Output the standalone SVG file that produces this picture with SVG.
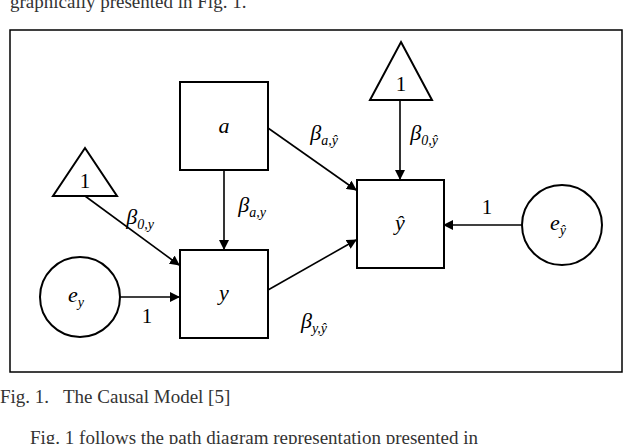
<svg xmlns="http://www.w3.org/2000/svg" width="632" height="444" viewBox="0 0 632 444">
<style>
.n{fill:#fff;stroke:#000;stroke-width:2}
.t{font-family:"Liberation Serif",serif;font-size:22px;font-style:italic;text-anchor:middle}
.u{font-family:"Liberation Serif",serif;font-size:21px;text-anchor:middle}
.s{font-size:14px}
.c{stroke:#000;stroke-width:1.6;fill:none;marker-end:url(#ah)}
.p{font-family:"Liberation Serif",serif;font-size:19px;fill:#333}
</style>
<defs><marker id="ah" markerWidth="10" markerHeight="10" refX="9" refY="5" orient="auto" markerUnits="userSpaceOnUse"><path d="M0,0 L10,5 L0,10 z" fill="#000"/></marker></defs>
<rect width="632" height="444" fill="#fff"/>
<text class="p" x="10" y="8">graphically presented in Fig. 1.</text>
<rect x="10" y="30" width="612" height="342" fill="none" stroke="#000" stroke-width="1.5"/>
<g id="connectors">
<line class="c" x1="224" y1="170" x2="224" y2="249"/>
<line class="c" x1="268" y1="128" x2="356" y2="190"/>
<line class="c" x1="85" y1="196" x2="179" y2="265"/>
<line class="c" x1="120" y1="297" x2="179" y2="297"/>
<line class="c" x1="268" y1="290" x2="356" y2="240"/>
<line class="c" x1="400" y1="100" x2="400" y2="179"/>
<line class="c" x1="522" y1="225" x2="444" y2="225"/>
<text class="t" x="252" y="212">β<tspan class="s" dy="5">a,y</tspan></text>
<text class="t" x="324" y="140">β<tspan class="s" dy="5">a,ŷ</tspan></text>
<text class="t" x="140" y="224">β<tspan class="s" dy="5">0,y</tspan></text>
<text class="u" x="147" y="323">1</text>
<text class="t" x="314" y="328">β<tspan class="s" dy="5">y,ŷ</tspan></text>
<text class="t" x="424" y="140">β<tspan class="s" dy="5">0,ŷ</tspan></text>
<text class="u" x="487" y="214">1</text>
</g>
<g id="a"><rect class="n" x="180" y="82" width="88" height="88"/><text class="t" x="224" y="133">a</text></g>
<g id="y"><rect class="n" x="180" y="250" width="88" height="88"/><text class="t" x="224" y="300">y</text></g>
<g id="yhat"><rect class="n" x="357" y="180" width="87" height="88"/><text class="t" x="400" y="230">ŷ</text></g>
<g id="one_left"><polygon class="n" points="85,148 117,196 53,196"/><text class="u" x="85" y="188">1</text></g>
<g id="one_top"><polygon class="n" points="401,42 432,100 370,100"/><text class="u" x="401" y="91">1</text></g>
<g id="ey"><circle class="n" cx="80" cy="297" r="40"/><text class="t" x="76" y="302">e<tspan class="s" dy="5">y</tspan></text></g>
<g id="eyhat"><circle class="n" cx="562" cy="225" r="40"/><text class="t" x="558" y="230">e<tspan class="s" dy="5">ŷ</tspan></text></g>
<text class="p" x="0" y="403" font-size="16" xml:space="preserve">Fig. 1.   The Causal Model [5]</text>
<text class="p" x="30" y="444">Fig. 1 follows the path diagram representation presented in</text>
</svg>
